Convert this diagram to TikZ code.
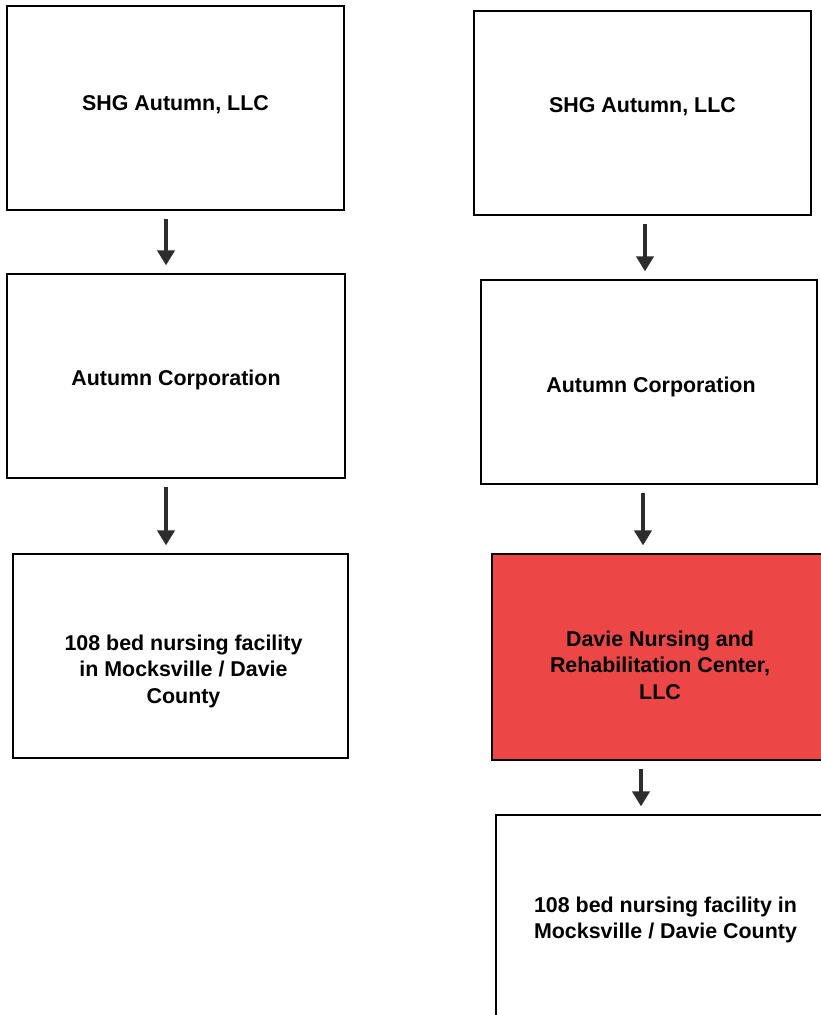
\documentclass[tikz,border=0pt]{standalone}
\usepackage{fontspec}
\setmainfont{Liberation Sans}
\usetikzlibrary{arrows.meta}
\definecolor{llcred}{RGB}{237,70,70}
\definecolor{arrowgray}{RGB}{45,45,45}
\tikzset{
  orgbox/.style={draw=black, line width=1.2pt, fill=white, minimum width=337pt, minimum height=204pt},
  orgtext/.style={align=center, font=\bfseries\fontsize{21.4}{26.5}\selectfont},
  arr/.style={draw=arrowgray, line width=4.5pt, -{Triangle[width=17pt,length=15pt]}, shorten <=8pt, shorten >=8pt}
}
\begin{document}
\begin{tikzpicture}[x=1pt, y=-1pt]
        \clip (0,0) rectangle (821,1015);
        \fill[white] (0,0) rectangle (821,1015);
        % left column
        \node[orgbox, label={[orgtext, yshift=3pt]center:SHG Autumn, LLC}] (lshg) at (175.5,108) {};
        \node[orgbox, minimum width=338pt, label={[orgtext, yshift=-4pt]center:Autumn Corporation}] (lcorp) at (176,376) {};
        \node[orgbox, minimum width=335pt, label={[orgtext, yshift=-15pt, xshift=3pt]center:{108 bed nursing facility\\in Mocksville / Davie\\County}}] (lfac) at (180.5,656) {};
        % right column
        \node[orgbox, label={[orgtext, yshift=6pt]center:SHG Autumn, LLC}] (rshg) at (642.5,113) {};
        \node[orgbox, minimum width=336pt, label={[orgtext, yshift=-5pt, xshift=2pt]center:Autumn Corporation}] (rcorp) at (649,382) {};
        \node[orgbox, fill=llcred, minimum width=340pt, minimum height=206pt, label={[orgtext, yshift=-8pt, xshift=-2pt]center:{Davie Nursing and\\Rehabilitation Center,\\LLC}}] (rllc) at (662,657) {};
        \node[orgbox, minimum width=339pt, label={[orgtext, yshift=-3pt]center:{108 bed nursing facility in\\Mocksville / Davie County}}] (rfac) at (665.5,917) {};
        % ownership arrows
        \draw[arr] ([xshift=-9.5pt]lshg.south) -- ([xshift=-9.5pt]lshg.south |- lcorp.north);
        \draw[arr] ([xshift=-10pt]lcorp.south) -- ([xshift=-10pt]lcorp.south |- lfac.north);
        \draw[arr] ([xshift=2.5pt]rshg.south) -- ([xshift=2.5pt]rshg.south |- rcorp.north);
        \draw[arr] ([xshift=-6pt]rcorp.south) -- ([xshift=-6pt]rcorp.south |- rllc.north);
        \draw[arr] ([xshift=-21pt]rllc.south) -- ([xshift=-21pt]rllc.south |- rfac.north);
\end{tikzpicture}
\end{document}
